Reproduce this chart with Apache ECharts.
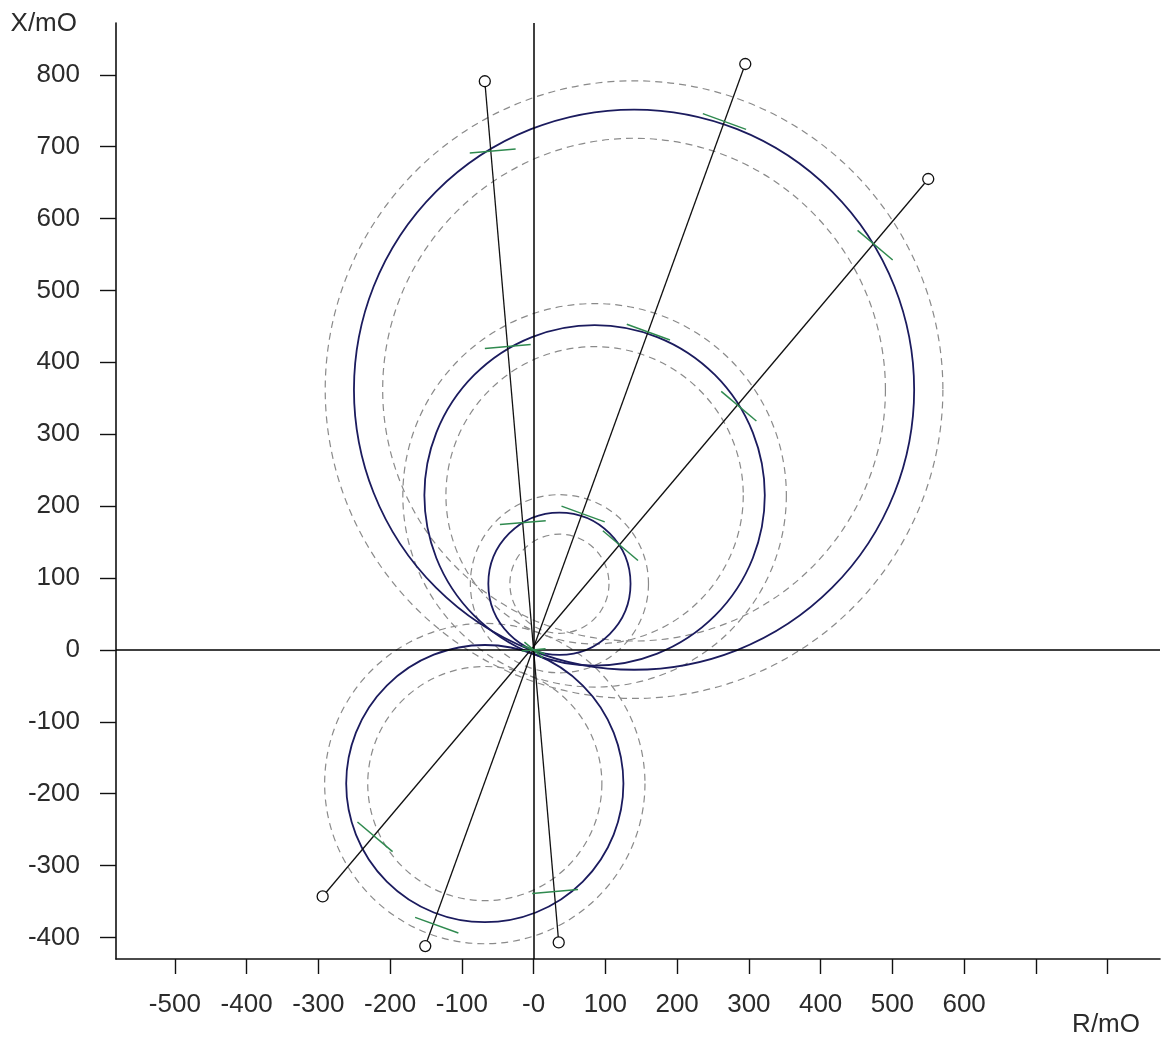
<!DOCTYPE html>
<html>
<head>
<meta charset="utf-8">
<script src="https://cdn.jsdelivr.net/npm/echarts@6/dist/echarts.min.js"></script>
<style>
  html, body { margin: 0; padding: 0; background: #ffffff; }
  #chart { width: 1162px; height: 1037px; }
</style>
</head>
<body>
<div id="chart"></div>
<script>
// Mho zone characteristics in the R/X plane (mOhm): centre and radius of each circle
const zoneCx = [140, 85, 36, -68];
const zoneCy = [362, 215, 92, -186];
const zoneR  = [390, 237, 99, 193];
// tolerance band of each zone: radius of the outer and inner dashed circle
const bandOuterR = [430, 267, 124, 223];
const bandInnerR = [350, 207, 69, 163];

// test lines through the origin, given by their two end points
const lineX1 = [-68, 295, 550];
const lineY1 = [791, 815, 655];
const lineX2 = [35, -151, -294];
const lineY2 = [-407, -412, -343];

// measured trip points along the test lines (index of the line each one lies on)
const tripX    = [-57, 266, 476, -36, 160, 286, -15, 69, 121, 30, -135, -221];
const tripY    = [694, 735, 563, 422, 442, 339, 177, 189, 145, -336, -383, -260];
const tripLine = [0, 1, 2, 0, 1, 2, 0, 1, 2, 0, 1, 2];
// trip points found at the origin
const originTripX = [0, 0, 0];
const originTripY = [0, 0, 0];
const originTripLine = [0, 1, 2];

// axis ticks and labels
const xTicks  = [-500, -400, -300, -200, -100, 0, 100, 200, 300, 400, 500, 600, 700, 800];
const xLabels = [-500, -400, -300, -200, -100, 0, 100, 200, 300, 400, 500, 600];
const yTicks  = [-400, -300, -200, -100, 0, 100, 200, 300, 400, 500, 600, 700, 800];

const FONT = "'Liberation Sans', Arial, sans-serif";
const TEXT = '#2b2b2b';
const ZONE_COLOR = '#1b1b5e';
const BAND_COLOR = '#8a8a8a';
const TRIP_COLOR = '#2f8a4f';

function circleRenderer(stroke, width, dash) {
  return function (params, api) {
    const c = api.coord([api.value(0), api.value(1)]);
    const s = api.size([api.value(2), api.value(2)]);
    return {
      type: 'circle',
      silent: true,
      shape: { cx: c[0], cy: c[1], r: (s[0] + s[1]) / 2 },
      style: { fill: null, stroke: stroke, lineWidth: width, lineDash: dash }
    };
  };
}

// short tick drawn across a test line at a trip point, perpendicular to the line
function tripRenderer(len) {
  return function (params, api) {
    const k = api.value(2);
    const a = api.coord([lineX1[k], lineY1[k]]);
    const b = api.coord([lineX2[k], lineY2[k]]);
    let dx = b[0] - a[0], dy = b[1] - a[1];
    const n = Math.sqrt(dx * dx + dy * dy);
    dx /= n; dy /= n;
    const px = -dy * len / 2, py = dx * len / 2;
    const c = api.coord([api.value(0), api.value(1)]);
    return {
      type: 'line',
      silent: true,
      shape: { x1: c[0] - px, y1: c[1] - py, x2: c[0] + px, y2: c[1] + py },
      style: { stroke: TRIP_COLOR, lineWidth: 1.5 }
    };
  };
}

const zoneData = zoneCx.map((x, i) => [x, zoneCy[i], zoneR[i]]);
const outerData = zoneCx.map((x, i) => [x, zoneCy[i], bandOuterR[i]]);
const innerData = zoneCx.map((x, i) => [x, zoneCy[i], bandInnerR[i]]);
const tripData = tripX.map((x, i) => [x, tripY[i], tripLine[i]]);
const originData = originTripX.map((x, i) => [x, originTripY[i], originTripLine[i]]);

const series = [
  {
    type: 'custom', name: 'band-outer', renderItem: circleRenderer(BAND_COLOR, 1.2, [7, 5]),
    data: outerData, z: 1,
    markLine: {
      silent: true, symbol: 'none', animation: false,
      label: { show: false },
      lineStyle: { color: '#000', width: 1.5, type: 'solid' },
      data: [{ xAxis: 0 }, { yAxis: 0 }]
    }
  },
  { type: 'custom', name: 'band-inner', renderItem: circleRenderer(BAND_COLOR, 1.2, [7, 5]), data: innerData, z: 1 },
  { type: 'custom', name: 'zones', renderItem: circleRenderer(ZONE_COLOR, 1.8, null), data: zoneData, z: 2 }
];

lineX1.forEach((x, i) => {
  series.push({
    type: 'line',
    name: 'test line ' + (i + 1),
    data: [[x, lineY1[i]], [lineX2[i], lineY2[i]]],
    symbol: 'circle',
    symbolSize: 11,
    showAllSymbol: true,
    itemStyle: { color: '#ffffff', borderColor: '#111', borderWidth: 1.3 },
    lineStyle: { color: '#111', width: 1.3 },
    z: 4,
    silent: true
  });
});

series.push({ type: 'custom', name: 'trip points', renderItem: tripRenderer(46), data: tripData, z: 5 });
series.push({ type: 'custom', name: 'origin trips', renderItem: tripRenderer(24), data: originData, z: 5 });

const chart = echarts.init(document.getElementById('chart'), null, { renderer: 'canvas' });
chart.setOption({
  animation: false,
  backgroundColor: '#ffffff',
  grid: { left: 116, top: 23, width: 1044, height: 936, outerBoundsMode: 'none', containLabel: false },
  xAxis: {
    type: 'value', min: -582, max: 873,
    name: 'R/mO', nameLocation: 'end', nameGap: -20,
    nameTextStyle: { color: TEXT, fontSize: 26, fontFamily: FONT, align: 'right', verticalAlign: 'top', padding: [53, 0, 0, 0] },
    axisLine: { onZero: false, lineStyle: { color: '#111', width: 1.6 } },
    axisTick: { show: true, inside: false, length: 15, customValues: xTicks, lineStyle: { color: '#111', width: 1.4 } },
    axisLabel: {
      customValues: xLabels, margin: 33, color: TEXT, fontSize: 26, fontFamily: FONT,
      formatter: v => (v === 0 ? '-0' : String(v))
    },
    splitLine: { show: false }
  },
  yAxis: {
    type: 'value', min: -430, max: 872,
    name: 'X/mO', nameLocation: 'end', nameGap: -1,
    nameTextStyle: { color: TEXT, fontSize: 26, fontFamily: FONT, align: 'right', verticalAlign: 'middle', padding: [0, 39, 0, 0] },
    axisLine: { onZero: false, lineStyle: { color: '#111', width: 1.6 } },
    axisTick: { show: true, inside: false, length: 16, customValues: yTicks, lineStyle: { color: '#111', width: 1.4 } },
    axisLabel: {
      customValues: yTicks, margin: 36, color: TEXT, fontSize: 26, fontFamily: FONT,
      formatter: v => String(v)
    },
    splitLine: { show: false }
  },
  series: series
});
</script>
</body>
</html>
